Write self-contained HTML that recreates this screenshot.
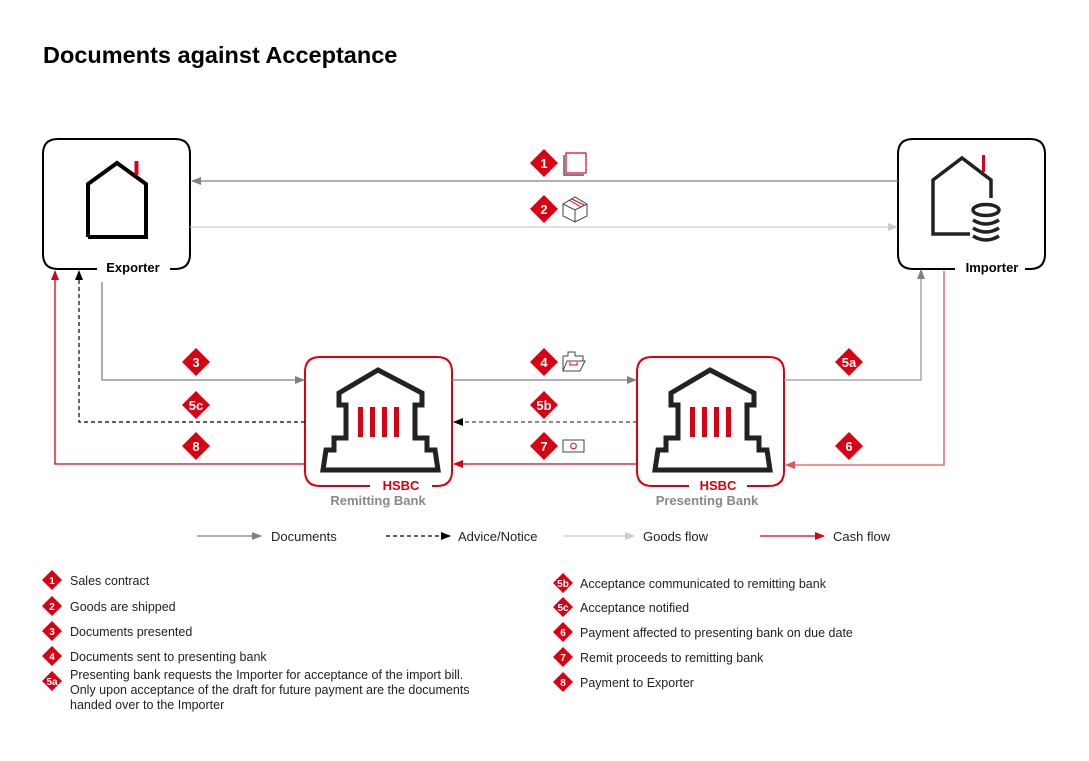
<!DOCTYPE html>
<html><head><meta charset="utf-8"><style>
html,body{margin:0;padding:0;background:#fff;}
svg{display:block;font-family:"Liberation Sans",Arial,sans-serif;}
</style></head><body>
<svg width="1089" height="761" viewBox="0 0 1089 761" xmlns="http://www.w3.org/2000/svg">
<defs>
<marker id="ag" markerWidth="10" markerHeight="8" refX="9" refY="4" orient="auto" markerUnits="userSpaceOnUse"><path d="M0,0 L10,4 L0,8z" fill="#808080"/></marker>
<marker id="al" markerWidth="10" markerHeight="8" refX="9" refY="4" orient="auto" markerUnits="userSpaceOnUse"><path d="M0,0 L10,4 L0,8z" fill="#ccc"/></marker>
<marker id="ak" markerWidth="10" markerHeight="8" refX="9" refY="4" orient="auto" markerUnits="userSpaceOnUse"><path d="M0,0 L10,4 L0,8z" fill="#000"/></marker>
<marker id="ar" markerWidth="10" markerHeight="8" refX="9" refY="4" orient="auto" markerUnits="userSpaceOnUse"><path d="M0,0 L10,4 L0,8z" fill="#db0011"/></marker>
<marker id="ar2" markerWidth="10" markerHeight="8" refX="9" refY="4" orient="auto" markerUnits="userSpaceOnUse"><path d="M0,0 L10,4 L0,8z" fill="#e8505c"/></marker>
<g id="bank">
<path d="M73,13 L34,36 L34,48 L41,48 L41,81 L29,81 L29,93 L21,93 L18,113 L133,113 L130,93 L122,93 L122,81 L110,81 L110,48 L117,48 L117,36 Z" fill="none" stroke="#222" stroke-width="5" stroke-linejoin="miter"/>
<rect x="53" y="50" width="5" height="30" fill="#db0011"/><rect x="65" y="50" width="5" height="30" fill="#db0011"/><rect x="77" y="50" width="5" height="30" fill="#db0011"/><rect x="89" y="50" width="5" height="30" fill="#db0011"/>
</g>
</defs>

<text x="43" y="63" font-size="23.5" font-weight="bold" fill="#000">Documents against Acceptance</text>

<!-- Exporter -->
<path d="M97,269 L58,269 Q43,269 43,254 L43,154 Q43,139 58,139 L175,139 Q190,139 190,154 L190,254 Q190,269 175,269 L170,269" fill="none" stroke="#000" stroke-width="2"/>
<text x="133" y="272" font-size="13" font-weight="bold" text-anchor="middle">Exporter</text>
<polyline points="88,237 88,184 117,163 146,184 146,237 88,237" fill="none" stroke="#000" stroke-width="4"/>
<rect x="134.5" y="161" width="4" height="14" fill="#db0011"/>

<!-- Importer -->
<path d="M955,269 L913,269 Q898,269 898,254 L898,154 Q898,139 913,139 L1030,139 Q1045,139 1045,154 L1045,254 Q1045,269 1030,269 L1025,269" fill="none" stroke="#000" stroke-width="2"/>
<text x="992" y="272" font-size="13" font-weight="bold" text-anchor="middle">Importer</text>
<polyline points="970,234 933,234 933,180 962,158 991,180 991,198" fill="none" stroke="#222" stroke-width="3.5"/>
<rect x="982" y="155" width="3" height="17" fill="#db0011"/>
<g fill="none" stroke="#222" stroke-width="3.5">
<ellipse cx="986" cy="210" rx="13" ry="5.5"/>
<path d="M973,220 Q986,228 999,220 M973,228 Q986,236 999,228 M973,236 Q986,244 999,236"/>
</g>

<!-- Banks -->
<path d="M370,486 L320,486 Q305,486 305,471 L305,372 Q305,357 320,357 L437,357 Q452,357 452,372 L452,471 Q452,486 437,486 L432,486" fill="none" stroke="#db0011" stroke-width="2"/>
<use href="#bank" x="305" y="357"/>
<text x="401" y="490" font-size="13" font-weight="bold" fill="#db0011" text-anchor="middle">HSBC</text>
<text x="378" y="505" font-size="13" font-weight="bold" fill="#888" text-anchor="middle">Remitting Bank</text>

<path d="M689,486 L652,486 Q637,486 637,471 L637,372 Q637,357 652,357 L769,357 Q784,357 784,372 L784,471 Q784,486 769,486 L747,486" fill="none" stroke="#db0011" stroke-width="2"/>
<use href="#bank" x="637" y="357"/>
<text x="718" y="490" font-size="13" font-weight="bold" fill="#db0011" text-anchor="middle">HSBC</text>
<text x="707" y="505" font-size="13" font-weight="bold" fill="#888" text-anchor="middle">Presenting Bank</text>

<!-- connectors -->
<line x1="898" y1="181" x2="192" y2="181" stroke="#808080" stroke-width="1.3" marker-end="url(#ag)"/>
<line x1="190" y1="227" x2="897" y2="227" stroke="#ccc" stroke-width="1.3" marker-end="url(#al)"/>
<polyline points="102,282 102,380 304,380" fill="none" stroke="#808080" stroke-width="1.3" marker-end="url(#ag)"/>
<polyline points="305,422 79,422 79,271" fill="none" stroke="#000" stroke-width="1.2" stroke-dasharray="4,3" marker-end="url(#ak)"/>
<polyline points="305,464 55,464 55,271" fill="none" stroke="#db0011" stroke-width="1.3" marker-end="url(#ar)"/>
<line x1="452" y1="380" x2="636" y2="380" stroke="#808080" stroke-width="1.3" marker-end="url(#ag)"/>
<line x1="637" y1="422" x2="454" y2="422" stroke="#444" stroke-width="1.2" stroke-dasharray="4,3" marker-end="url(#ak)"/>
<line x1="637" y1="464" x2="454" y2="464" stroke="#db0011" stroke-width="1.3" marker-end="url(#ar)"/>
<polyline points="784,380 921,380 921,270" fill="none" stroke="#999" stroke-width="1.3" marker-end="url(#ag)"/>
<polyline points="944,271 944,465 786,465" fill="none" stroke="#e8505c" stroke-width="1.3" marker-end="url(#ar2)"/>

<!-- diagram diamonds -->
<g font-size="13" font-weight="bold" fill="#fff" text-anchor="middle">
<g transform="translate(544,163)"><polygon points="0,-14 14,0 0,14 -14,0" fill="#db0011"/><text y="5" fill="#fff">1</text></g>
<g transform="translate(544,209)"><polygon points="0,-14 14,0 0,14 -14,0" fill="#db0011"/><text y="5" fill="#fff">2</text></g>
<g transform="translate(196,362)"><polygon points="0,-14 14,0 0,14 -14,0" fill="#db0011"/><text y="5" fill="#fff">3</text></g>
<g transform="translate(196,405)"><polygon points="0,-14 14,0 0,14 -14,0" fill="#db0011"/><text y="5" fill="#fff">5c</text></g>
<g transform="translate(196,446)"><polygon points="0,-14 14,0 0,14 -14,0" fill="#db0011"/><text y="5" fill="#fff">8</text></g>
<g transform="translate(544,362)"><polygon points="0,-14 14,0 0,14 -14,0" fill="#db0011"/><text y="5" fill="#fff">4</text></g>
<g transform="translate(544,405)"><polygon points="0,-14 14,0 0,14 -14,0" fill="#db0011"/><text y="5" fill="#fff">5b</text></g>
<g transform="translate(544,446)"><polygon points="0,-14 14,0 0,14 -14,0" fill="#db0011"/><text y="5" fill="#fff">7</text></g>
<g transform="translate(849,362)"><polygon points="0,-14 14,0 0,14 -14,0" fill="#db0011"/><text y="5" fill="#fff">5a</text></g>
<g transform="translate(849,446)"><polygon points="0,-14 14,0 0,14 -14,0" fill="#db0011"/><text y="5" fill="#fff">6</text></g>
</g>

<!-- small icons -->
<rect x="566" y="153" width="20" height="20" fill="none" stroke="#db0011" stroke-width="1.2"/>
<polyline points="564,155 564,175 584,175" fill="none" stroke="#333" stroke-width="1.2"/>
<g fill="none" stroke="#444" stroke-width="1">
<path d="M563,204 L575,197 L587,204 L587,216 L575,222 L563,216 Z M563,204 L575,210 L587,204 M575,210 L575,222"/>
<path d="M569,200 L581,207 M572,199 L584,205" stroke="#db0011"/>
<path d="M563,356 L568,356 L568,352 L575,352 L575,356 L583,356 L583,361 M563,356 L563,371 L580,371 L585,361 L567,361 L563,371"/>
<path d="M570,362 L570,365 L577,365 L577,362" stroke="#db0011"/>
<rect x="563" y="440" width="21" height="12"/>
<circle cx="573.5" cy="446" r="2.8" stroke="#db0011"/>
</g>

<!-- legend -->
<g font-size="13" fill="#222">
<line x1="197" y1="536" x2="261" y2="536" stroke="#808080" stroke-width="1.2" marker-end="url(#ag)"/>
<text x="271" y="541">Documents</text>
<line x1="386" y1="536" x2="450" y2="536" stroke="#000" stroke-width="1.2" stroke-dasharray="4,3" marker-end="url(#ak)"/>
<text x="458" y="541">Advice/Notice</text>
<line x1="563" y1="536" x2="634" y2="536" stroke="#ccc" stroke-width="1.2" marker-end="url(#al)"/>
<text x="643" y="541">Goods flow</text>
<line x1="760" y1="536" x2="824" y2="536" stroke="#db0011" stroke-width="1.2" marker-end="url(#ar)"/>
<text x="833" y="541">Cash flow</text>
</g>

<!-- list -->
<g font-size="12.5" fill="#222">
<g text-anchor="middle" font-size="10" font-weight="bold">
<g transform="translate(52,580)"><polygon points="0,-10 10,0 0,10 -10,0" fill="#db0011"/><text y="4" fill="#fff">1</text></g>
<g transform="translate(52,606)"><polygon points="0,-10 10,0 0,10 -10,0" fill="#db0011"/><text y="4" fill="#fff">2</text></g>
<g transform="translate(52,631)"><polygon points="0,-10 10,0 0,10 -10,0" fill="#db0011"/><text y="4" fill="#fff">3</text></g>
<g transform="translate(52,656)"><polygon points="0,-10 10,0 0,10 -10,0" fill="#db0011"/><text y="4" fill="#fff">4</text></g>
<g transform="translate(52,681)"><polygon points="0,-10 10,0 0,10 -10,0" fill="#db0011"/><text y="4" fill="#fff">5a</text></g>
<g transform="translate(563,583)"><polygon points="0,-10 10,0 0,10 -10,0" fill="#db0011"/><text y="4" fill="#fff">5b</text></g>
<g transform="translate(563,607)"><polygon points="0,-10 10,0 0,10 -10,0" fill="#db0011"/><text y="4" fill="#fff">5c</text></g>
<g transform="translate(563,632)"><polygon points="0,-10 10,0 0,10 -10,0" fill="#db0011"/><text y="4" fill="#fff">6</text></g>
<g transform="translate(563,657)"><polygon points="0,-10 10,0 0,10 -10,0" fill="#db0011"/><text y="4" fill="#fff">7</text></g>
<g transform="translate(563,682)"><polygon points="0,-10 10,0 0,10 -10,0" fill="#db0011"/><text y="4" fill="#fff">8</text></g>
</g>
<text x="70" y="585">Sales contract</text>
<text x="70" y="611">Goods are shipped</text>
<text x="70" y="636">Documents presented</text>
<text x="70" y="661">Documents sent to presenting bank</text>
<text x="70" y="679">Presenting bank requests the Importer for acceptance of the import bill.</text>
<text x="70" y="694">Only upon acceptance of the draft for future payment are the documents</text>
<text x="70" y="709">handed over to the Importer</text>
<text x="580" y="588">Acceptance communicated to remitting bank</text>
<text x="580" y="612">Acceptance notified</text>
<text x="580" y="637">Payment affected to presenting bank on due date</text>
<text x="580" y="662">Remit proceeds to remitting bank</text>
<text x="580" y="687">Payment to Exporter</text>
</g>
</svg>
</body></html>
